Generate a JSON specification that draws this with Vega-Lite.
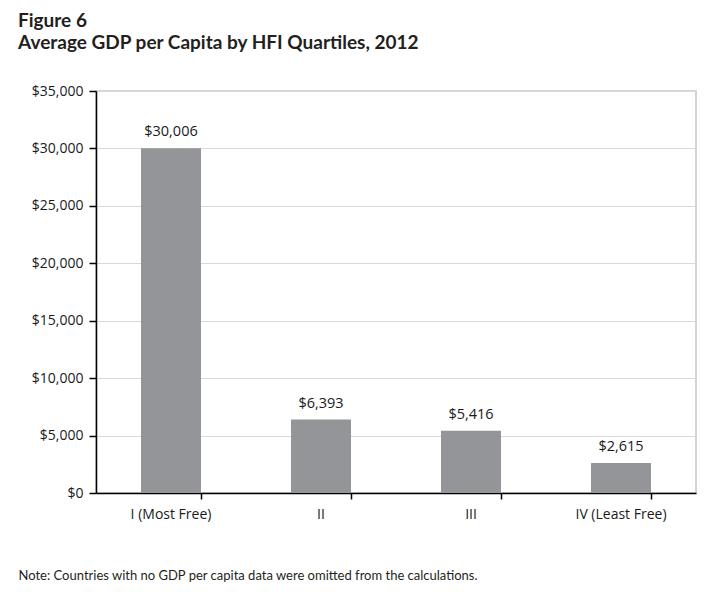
{
  "$schema": "https://vega.github.io/schema/vega-lite/v6.json",
  "width": 600,
  "height": 402,
  "autosize": {"type": "none"},
  "padding": {"left": 96, "top": 91, "right": 22, "bottom": 99},
  "background": "white",
  "title": {
    "text": "Figure 6",
    "subtitle": "Average GDP per Capita by HFI Quartiles, 2012",
    "anchor": "start",
    "frame": "group",
    "dx": -78,
    "offset": 31,
    "font": "Lato",
    "fontSize": 19,
    "fontWeight": "bold",
    "color": "#231f20",
    "subtitleFont": "Lato",
    "subtitleFontSize": 19,
    "subtitleFontWeight": "bold",
    "subtitleColor": "#231f20",
    "subtitlePadding": 3
  },
  "config": {
    "view": {"stroke": "#c6c6c6", "strokeWidth": 1.5},
    "font": "Open Sans"
  },
  "data": {
    "values": [
      {"quartile": "I (Most Free)", "gdp": 30006},
      {"quartile": "II", "gdp": 6393},
      {"quartile": "III", "gdp": 5416},
      {"quartile": "IV (Least Free)", "gdp": 2615}
    ]
  },
  "encoding": {
    "x": {
      "field": "quartile",
      "type": "nominal",
      "sort": null,
      "scale": {"paddingInner": 0.6, "paddingOuter": 0.3},
      "axis": {
        "title": "Note: Countries with no GDP per capita data were omitted from the calculations.",
        "titleAnchor": "start",
        "titleAlign": "left",
        "titleX": -78,
        "titleY": 76,
        "titleFont": "Lato",
        "titleFontSize": 13,
        "titleFontWeight": "normal",
        "titleColor": "#231f20",
        "labelAngle": 0,
        "labelFontSize": 14,
        "labelColor": "#1a1a1a",
        "labelPadding": 8,
        "domainColor": "#000000",
        "domainWidth": 1.5,
        "tickColor": "#000000",
        "tickWidth": 1.5,
        "tickSize": 6,
        "bandPosition": 1
      }
    },
    "y": {
      "field": "gdp",
      "type": "quantitative",
      "scale": {"domain": [0, 35000]},
      "axis": {
        "title": null,
        "values": [0, 5000, 10000, 15000, 20000, 25000, 30000, 35000],
        "format": "$,.0f",
        "labelFontSize": 14,
        "labelColor": "#1a1a1a",
        "labelPadding": 6,
        "domainColor": "#000000",
        "domainWidth": 1.5,
        "tickColor": "#000000",
        "tickWidth": 1.5,
        "tickSize": 7,
        "gridColor": "#d9d9d9",
        "gridWidth": 1
      }
    }
  },
  "layer": [
    {"mark": {"type": "bar", "color": "#939598"}},
    {
      "mark": {"type": "text", "baseline": "bottom", "dy": -9, "fontSize": 14.5, "color": "#1a1a1a"},
      "encoding": {"text": {"field": "gdp", "type": "quantitative", "format": "$,.0f"}}
    }
  ]
}
